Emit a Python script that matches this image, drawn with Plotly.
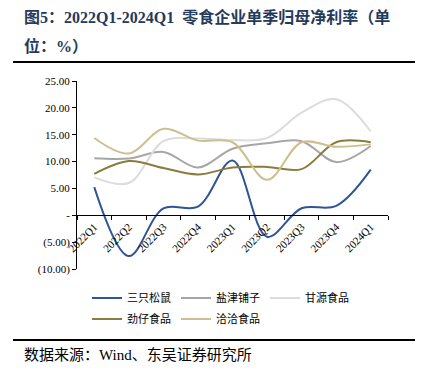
import plotly.graph_objects as go

categories = ["2022Q1", "2022Q2", "2022Q3", "2022Q4", "2023Q1", "2023Q2", "2023Q3", "2023Q4", "2024Q1"]
three_squirrels = [5.25, -7.6, 1.3, 1.6, 10.2, -4.0, 1.3, 1.75, 8.5]
yanjin = [10.6, 10.55, 11.8, 8.9, 12.4, 13.4, 13.8, 9.9, 12.9]
ganyuan = [7.05, 6.0, 13.8, 14.3, 14.0, 14.4, 19.1, 21.6, 15.6]
jinzai = [7.7, 10.1, 8.8, 7.6, 8.9, 9.0, 8.6, 13.6, 13.6]
qiaqia = [14.4, 11.5, 16.1, 13.9, 13.6, 6.6, 13.6, 12.75, 13.2]

series_names = ["三只松鼠", "盐津铺子", "甘源食品", "劲仔食品", "洽洽食品"]
series_values = [three_squirrels, yanjin, ganyuan, jinzai, qiaqia]
series_colors = ["#2F5597", "#A6A6A6", "#DCDCDC", "#8A7C3C", "#CDBF8E"]
series_legends = ["legend", "legend", "legend", "legend2", "legend2"]

y_tickvals = [-10, -5, 0, 5, 10, 15, 20, 25]
y_ticktext = ["(10.00)", "(5.00)", "-", "5.00", "10.00", "15.00", "20.00", "25.00"]

serif = "Times New Roman, Liberation Serif, Noto Sans CJK SC, serif"

W, H = 425, 377
ml, mr, mt, mb = 77, 37, 81, 108
ymin, ymax = -10, 25


def py(ypix):
    return (H - mb - ypix) / (H - mt - mb)


def px(xpix):
    return (xpix - ml) / (W - ml - mr)


fig = go.Figure()
for name, vals, col, lg in zip(series_names, series_values, series_colors, series_legends):
    fig.add_trace(go.Scatter(
        x=categories, y=vals, name=name, mode="lines",
        line=dict(color=col, width=2, shape="spline", smoothing=1.0),
        legend=lg,
    ))

legend_common = dict(orientation="h", x=px(87), xanchor="left", yanchor="middle",
                     entrywidth=44, entrywidthmode="pixels",
                     font=dict(size=11, family=serif), bgcolor="rgba(0,0,0,0)",
                     itemwidth=30, tracegroupgap=0)

fig.update_layout(
    width=W, height=H,
    margin=dict(l=ml, r=mr, t=mt, b=mb, autoexpand=False),
    paper_bgcolor="white", plot_bgcolor="white",
    font=dict(family=serif, size=11, color="#000000"),
    showlegend=True,
    legend=dict(y=py(298), **legend_common),
    legend2=dict(y=py(319), **legend_common),
    xaxis=dict(
        type="category", anchor="free", position=(0 - ymin) / (ymax - ymin),
        range=[-0.5, len(categories) - 0.5],
        showline=True, linecolor="#000000", linewidth=1,
        ticks="outside", ticklen=4, tickcolor="#000000", tickson="boundaries",
        tickangle=-45, showgrid=False, zeroline=False,
        tickfont=dict(size=11, family=serif),
    ),
    yaxis=dict(
        range=[ymin, ymax], tickvals=y_tickvals, ticktext=y_ticktext,
        showline=True, linecolor="#000000", linewidth=1,
        ticks="outside", ticklen=4, tickcolor="#000000",
        showgrid=False, zeroline=False,
        tickfont=dict(size=11, family=serif),
    ),
)

title_color = "#253A5A"
fig.add_annotation(text="<b>图5：2022Q1-2024Q1  零食企业单季归母净利率（单</b>",
                   xref="paper", yref="paper", x=px(22), y=py(17),
                   xanchor="left", yanchor="middle", showarrow=False,
                   font=dict(size=16, family=serif, color=title_color))
fig.add_annotation(text="<b>位：%）</b>",
                   xref="paper", yref="paper", x=px(22), y=py(46),
                   xanchor="left", yanchor="middle", showarrow=False,
                   font=dict(size=16, family=serif, color=title_color))

fig.add_annotation(text="数据来源：Wind、东吴证券研究所",
                   xref="paper", yref="paper", x=px(22), y=py(355),
                   xanchor="left", yanchor="middle", showarrow=False,
                   font=dict(size=15, family=serif, color="#000000"))

for ypix in (62, 340):
    fig.add_shape(type="line", xref="paper", yref="paper",
                  x0=px(13), x1=px(415), y0=py(ypix), y1=py(ypix),
                  line=dict(color="#000000", width=2))

fig.write_html("out.html", config={"displayModeBar": False},
               post_script="document.body.style.margin='0px';")
